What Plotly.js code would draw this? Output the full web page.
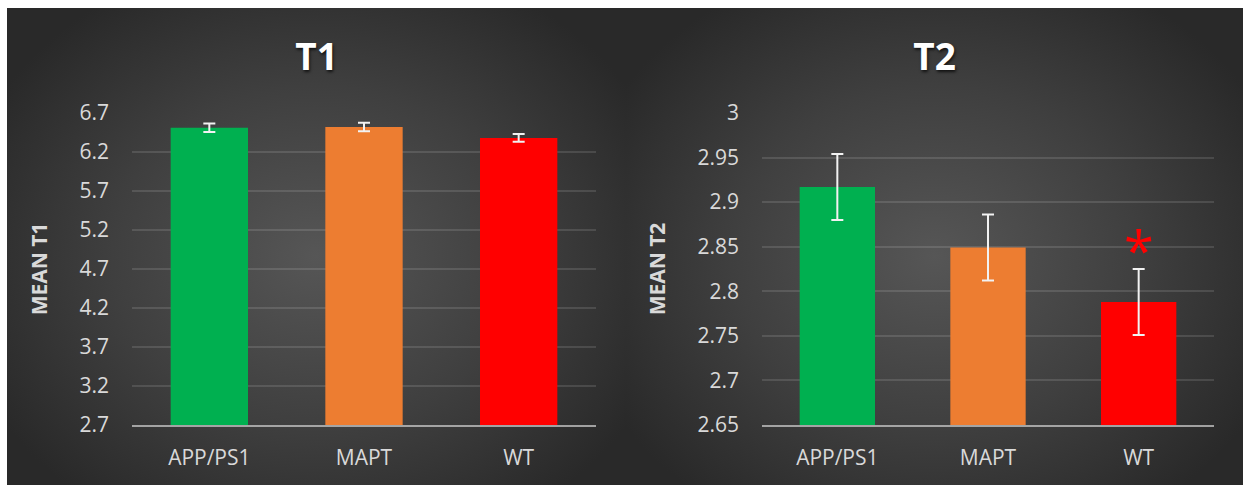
<!DOCTYPE html>
<html>
<head>
<meta charset="utf-8">
<script src="https://cdn.plot.ly/plotly-3.0.1.min.js"></script>
<style>
  html, body { margin: 0; padding: 0; background: #ffffff; width: 1243px; height: 485px; overflow: hidden; }
  .panel { position: absolute; top: 8px; height: 477px;
           background: radial-gradient(ellipse 60% 65% at 50% 52%, #565656 0%, #3f3f3f 55%, #292929 100%); }
  #p1 { left: 7px; width: 619px; }
  #p2 { left: 626px; width: 617px; }
</style>
</head>
<body>
<div id="p1" class="panel"></div>
<div id="p2" class="panel"></div>
<script>
// ---- data ----
const groups = ["APP/PS1", "MAPT", "WT"];
const barColors = ["#00B050", "#ED7D31", "#FF0000"];

const t1Mean = [6.51, 6.52, 6.38];
const t1Err  = [0.055, 0.054, 0.05];
const t1TickVals = [2.7, 3.2, 3.7, 4.2, 4.7, 5.2, 5.7, 6.2, 6.7];
const t1TickText = ["2.7", "3.2", "3.7", "4.2", "4.7", "5.2", "5.7", "6.2", "6.7"];

const t2Mean = [2.917, 2.849, 2.788];
const t2Err  = [0.037, 0.037, 0.037];
const t2TickVals = [2.65, 2.7, 2.75, 2.8, 2.85, 2.9, 2.95, 3];
const t2TickText = ["2.65", "2.7", "2.75", "2.8", "2.85", "2.9", "2.95", "3"];

const sigGroup = "WT";
const sigMark = "*";
const sigLevel = 2.856;

// ---- styling ----
const FONT = "Open Sans, Noto Sans, sans-serif";
const tickColor = "#d9d9d9";

function makeLayout(title, yTitle, range, tv, tt, l, r) {
  return {
    width: (title === "T1") ? 619 : 617,
    height: 477,
    paper_bgcolor: "rgba(0,0,0,0)",
    plot_bgcolor: "rgba(0,0,0,0)",
    margin: {l: l, r: r, t: 105, b: 60},
    showlegend: false,
    bargap: 0.5,
    title: {
      text: "<b>" + title + "</b>",
      x: 0.5, xref: "container", xanchor: "center",
      y: 1 - 49/477, yref: "container", yanchor: "middle",
      font: {family: FONT, size: 37, color: "#ffffff", shadow: "1px 2px 3px rgba(0,0,0,0.7)"}
    },
    xaxis: {
      type: "category",
      showgrid: false, zeroline: false,
      showline: true, linecolor: "rgba(200,200,200,0.75)", linewidth: 2,
      ticks: "",
      tickfont: {family: FONT, size: 21, color: tickColor},
      ticklabelstandoff: 13,
      fixedrange: true
    },
    yaxis: {
      range: range,
      tickvals: tv, ticktext: tt,
      showgrid: true, gridcolor: "rgba(255,255,255,0.12)", gridwidth: 2,
      zeroline: false, showline: false, ticks: "",
      tickfont: {family: FONT, size: 21, color: tickColor},
      ticklabelstandoff: 22,
      title: {text: "<b>" + yTitle + "</b>", font: {family: FONT, size: 21, color: tickColor}, standoff: 26},
      fixedrange: true
    }
  };
}

function barTrace(means, errs) {
  return {
    type: "bar",
    x: groups, y: means,
    marker: {color: barColors, line: {width: 0}},
    error_y: {type: "data", array: errs, visible: true, color: "#f2f2f2", thickness: 2, width: 6},
    hoverinfo: "none"
  };
}

const l1 = makeLayout("T1", "MEAN T1", [2.7, 6.7], t1TickVals, t1TickText, 124.5, 29.5);
Plotly.newPlot("p1", [barTrace(t1Mean, t1Err)], l1, {staticPlot: true});

const l2 = makeLayout("T2", "MEAN T2", [2.65, 3.0], t2TickVals, t2TickText, 135.5, 28.5);
l2.annotations = [{
  x: sigGroup, y: sigLevel, xref: "x", yref: "y",
  text: sigMark, showarrow: false,
  xanchor: "center", yanchor: "middle", yshift: -9,
  font: {family: FONT, size: 54, color: "#FF0000"}
}];
Plotly.newPlot("p2", [barTrace(t2Mean, t2Err)], l2, {staticPlot: true});
</script>
</body>
</html>
